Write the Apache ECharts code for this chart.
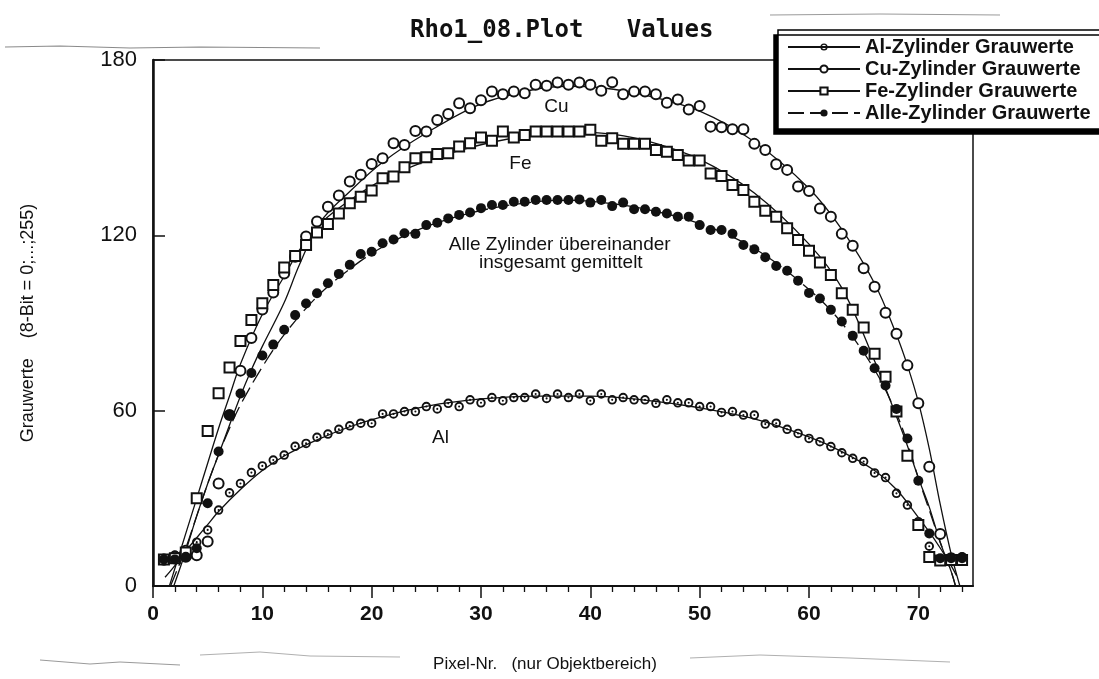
<!DOCTYPE html>
<html><head><meta charset="utf-8">
<script src="https://cdn.jsdelivr.net/npm/echarts@6/dist/echarts.min.js"></script>
<style>html,body{margin:0;padding:0;background:#fff}#c{width:1099px;height:679px}</style>
</head><body><div id="c"></div>
<script>
// ---------- data ----------
const pixelNr = [1,2,3,4,5,6,7,8,9,10,11,12,13,14,15,16,17,18,19,20,21,22,23,24,25,26,27,28,29,30,31,32,33,34,35,36,37,38,39,40,41,42,43,44,45,46,47,48,49,50,51,52,53,54,55,56,57,58,59,60,61,62,63,64,65,66,67,68,69,70,71,72,73,74];

const alValues = [9.5,10.6,12.5,15,19.2,26.0,31.9,35.1,38.8,41.1,43.1,44.8,47.8,48.8,50.9,52.0,53.6,54.8,55.7,55.7,58.9,58.9,59.7,59.7,61.4,60.6,62.5,61.4,63.7,62.7,64.5,63.4,64.5,64.5,65.7,64.2,65.7,64.5,65.7,63.4,65.7,63.7,64.5,63.7,63.7,62.5,63.7,62.7,62.7,61.4,61.4,59.4,59.7,58.5,58.5,55.4,55.7,53.6,52.2,50.5,49.4,47.7,45.6,43.7,42.6,38.7,37.1,31.7,27.7,22.0,13.6,8.9,9.0,10.0];

const cuValues = [9,10,10,10.5,15.2,35.1,58.5,73.7,84.9,94.6,100.4,106.9,112.7,119.6,124.7,129.8,133.6,138.4,140.7,144.4,146.4,151.5,150.9,155.7,155.5,159.5,161.5,165.2,163.5,166.2,169.2,168.3,169.2,168.6,171.5,171.2,172.3,171.5,172.3,171.5,169.5,172.4,168.3,169.2,169.2,168.3,165.4,166.5,163.1,164.3,157.2,157.0,156.3,156.3,151.3,149.2,144.3,142.4,136.7,135.2,129.2,126.4,120.5,116.4,108.7,102.4,93.5,86.3,75.5,62.5,40.8,17.8,9.5,9.5];

const feValues = [9.1,9.5,11.5,30.0,53.0,66.0,74.8,83.8,91.0,96.8,103.0,109.0,112.9,116.7,121.0,123.9,127.5,131.0,133.2,135.3,139.5,140.1,143.3,146.4,146.7,147.8,148.1,150.4,151.5,153.5,152.4,155.5,153.5,154.3,155.5,155.5,155.5,155.5,155.5,156.1,152.4,153.2,151.3,151.3,151.3,149.2,148.6,147.5,145.6,145.6,141.2,140.3,137.2,135.5,131.5,128.4,126.4,122.4,118.4,114.7,110.7,106.4,100.2,94.5,88.5,79.5,71.6,59.7,44.6,20.9,9.9,8.7,8.9,8.9];

const alleValues = [9.1,9.1,10.0,12.9,28.3,46.0,58.5,65.9,72.9,78.9,82.6,87.7,92.7,96.7,100.2,103.6,106.8,109.9,113.6,114.4,117.3,118.6,120.7,120.5,123.5,124.3,125.8,127.0,127.8,129.3,130.4,130.4,131.5,131.5,132.1,132.1,132.1,132.1,132.3,131.2,132.1,130.0,131.2,128.9,128.9,128.1,127.5,126.4,126.4,123.5,121.8,121.8,120.5,116.7,115.2,112.5,109.5,107.9,104.5,100.3,98.4,94.5,90.5,85.6,80.5,74.5,68.6,60.6,50.5,36.0,18.0,9.5,9.5,9.5];

// fitted curves
const alFitX = [1.1,2,3,4,5,6,8,10,12,15,18,21,25,30,35,40,45,50,55,60,63,66,68,70,71,72,73,73.5];
const alFitY = [3,7,12,16.5,21,25.5,33,39.5,44.5,50,54.5,58,61.5,64,65,65,63.6,61,57.2,51,46,39.5,33,23.5,18.5,13,7,3.5];
const cuFitX = [1.9,3,4,5,6,8,9,10,12,13.4,15.3,18,21,25,30,35,38,41,45,50,55,60,63,66,68,69,70,71,72,73,73.8];
const cuFitY = [0,12,24,35,45,65,74,82,97,110,124.5,135,145,155,165,170,171,170.5,168,162.5,152,136,122,103.5,86,75.5,63,47,28,11,0];
const feFitX = [1.5,2,3,4,5,6,7,8,10,12,13.4,15.3,18,21,25,30,35,38,41,45,50,55,60,63,66,68,69,70,71,72,73,73.4];
const feFitY = [0,6,18,30,42,54,65,76,93,106,115,124,132,139,145.5,151,154.5,155.3,155,152.5,146,134.5,117,102,77,58,48,37,27,15,5,0];
const alleFitX = [1.6,3,4,5,6,7,8,10,12,15,18,21,25,30,35,38,41,45,50,55,60,63,66,68,69,70,71,72,73,73.4];
const alleFitY = [0,13,24,35,45,54,62,75,86,99,108.5,116,123,128.5,131.5,132,131.3,129,124,115.5,101.5,90,74,59,49,37,26,15,5,0];

const seriesNames = ['Al-Zylinder Grauwerte','Cu-Zylinder Grauwerte','Fe-Zylinder Grauwerte','Alle-Zylinder Grauwerte'];
const xTickLabels = [0,10,20,30,40,50,60,70];
const xMinorTicks = [2,4,6,8,12,14,16,18,22,24,26,28,32,34,36,38,42,44,46,48,52,54,56,58,62,64,66,68,72,74];
const annoText = ['Cu','Fe','Alle Zylinder übereinander','insgesamt gemittelt','Al'];
const annoX = [36.9,33.6,37.2,37.3,26.3];
const annoY = [164,144.4,116.7,110.5,50.6];

// ---------- helpers ----------
const zip = (a,b) => a.map((v,i)=>[v,b[i]]);
const dotRing = 'path://M0,10A10,10 0 1,1 20,10A10,10 0 1,1 0,10Z M4,10A6,6 0 1,0 16,10A6,6 0 1,0 4,10Z M7.8,10A2.2,2.2 0 1,1 12.2,10A2.2,2.2 0 1,1 7.8,10Z';
const symbols = [dotRing,'emptyCircle','emptyRect','circle'];
const pts = [alValues,cuValues,feValues,alleValues];
const fits = [[alFitX,alFitY],[cuFitX,cuFitY],[feFitX,feFitY],[alleFitX,alleFitY]];
const INK = '#111';

const series = [];
seriesNames.forEach((n,i)=>{
  series.push({
    name:n, type:'line', data: zip(fits[i][0],fits[i][1]), smooth:0.35, showSymbol:false,
    symbol: symbols[i], symbolSize: 9, silent:true, clip:true,
    itemStyle:{color:INK, borderColor:INK, opacity:1},
    lineStyle:{color:INK, width:1.3, type: i===3 ? [16,6] : 'solid'},
    z:2
  });
});
seriesNames.forEach((n,i)=>{
  series.push({
    name:n, type:'scatter', data: zip(pixelNr, pts[i]),
    symbol: symbols[i], symbolSize: i===0 ? 9.5 : 10, silent:true,
    itemStyle: (i===1||i===2) ? {color:INK, borderColor:INK, borderWidth:1.6, opacity:1} : {color:INK, opacity:1},
    z:3
  });
});
series.push({
  type:'scatter', silent:true, symbolSize:0, z:4,
  itemStyle:{opacity:1},
  data: annoText.map((t,i)=>({value:[annoX[i],annoY[i]], name:t})),
  label:{show:true, position:'inside', formatter: p=>p.name, color:INK,
    fontFamily:'Liberation Sans', fontSize:19, lineHeight:19}
});

const chart = echarts.init(document.getElementById('c'), null, {renderer:'canvas'});
chart.setOption({
  animation:false,
  backgroundColor:'#fff',
  textStyle:{fontFamily:'Liberation Sans'},
  title:{
    text:'Rho1_08.Plot   Values', left:405, top:14,
    textStyle:{fontFamily:'DejaVu Sans Mono', fontWeight:'bold', fontSize:24, color:INK}
  },
  legend:{
    data: seriesNames, orient:'vertical', left:778, top:30,
    itemWidth:72, itemHeight:9, itemGap:2,
    padding:[7,60,6,9],
    backgroundColor:'#fff', borderColor:'#000', borderWidth:1.5, borderRadius:0,
    shadowColor:'#000', shadowBlur:0.01, shadowOffsetX:-4, shadowOffsetY:5,
    selectedMode:false,
    textStyle:{fontFamily:'Liberation Sans', fontWeight:'bold', fontSize:20, lineHeight:20, color:INK}
  },
  grid:{left:153, right:126, top:60, bottom:93, show:true, borderColor:INK, borderWidth:1.5, containLabel:false},
  xAxis:[{
    type:'value', min:0, max:75, position:'bottom',
    name:'Pixel-Nr.   (nur Objektbereich)', nameLocation:'middle', nameGap:70,
    nameTextStyle:{fontFamily:'Liberation Sans', fontSize:17, color:INK, padding:[0,36,0,0]},
    axisLine:{show:true, lineStyle:{color:INK, width:2}},
    axisTick:{show:true, inside:false, length:12, customValues:xTickLabels, lineStyle:{color:INK, width:1.5}},
    axisLabel:{customValues:xTickLabels, margin:18, fontFamily:'Liberation Sans', fontWeight:'bold', fontSize:21, color:INK},
    splitLine:{show:false}
  },{
    type:'value', min:0, max:75, position:'bottom',
    axisLine:{show:false},
    axisTick:{show:true, inside:false, length:6, customValues:xMinorTicks, lineStyle:{color:INK, width:1.3}},
    axisLabel:{show:false}, splitLine:{show:false}
  }],
  yAxis:{
    type:'value', min:0, max:180, interval:60,
    name:'Grauwerte    (8-Bit = 0;...;255)', nameLocation:'middle', nameGap:116, nameRotate:90,
    nameTextStyle:{fontFamily:'Liberation Sans', fontSize:18, color:INK},
    axisLine:{show:true, lineStyle:{color:INK, width:2.5}},
    axisTick:{show:true, inside:true, length:12, lineStyle:{color:INK, width:1.5}},
    axisLabel:{margin:16, fontFamily:'Liberation Sans', fontSize:22, color:INK},
    splitLine:{show:false}
  },
  graphic:[
    {type:'polyline', silent:true, shape:{points:[[5,47],[60,46],[130,48],[200,47],[320,48]]}, style:{stroke:'#8a8a8a', lineWidth:1.2, fill:null}},
    {type:'polyline', silent:true, shape:{points:[[770,15],[880,14],[1000,15]]}, style:{stroke:'#9a9a9a', lineWidth:1, fill:null}},
    {type:'polyline', silent:true, shape:{points:[[40,660],[90,664],[120,662],[180,665]]}, style:{stroke:'#9a9a9a', lineWidth:1, fill:null}},
    {type:'polyline', silent:true, shape:{points:[[200,655],[260,652],[310,656],[400,657]]}, style:{stroke:'#b0b0b0', lineWidth:1, fill:null}},
    {type:'polyline', silent:true, shape:{points:[[690,658],[760,655],[850,658],[950,662]]}, style:{stroke:'#b0b0b0', lineWidth:1, fill:null}}
  ],
  series: series
});
</script>
</body></html>
